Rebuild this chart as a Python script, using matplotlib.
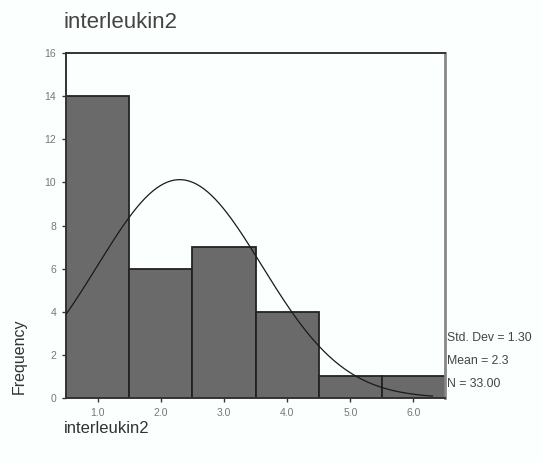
import matplotlib
matplotlib.use('Agg')
import matplotlib.pyplot as plt
import numpy as np

plt.rcParams['font.family'] = ['Liberation Sans', 'DejaVu Sans']

# histogram data
bin_centers = [1.0, 2.0, 3.0, 4.0, 5.0, 6.0]
frequencies = [14, 6, 7, 4, 1, 1]
tick_labels = ['1.0', '2.0', '3.0', '4.0', '5.0', '6.0']
y_ticks = [0, 2, 4, 6, 8, 10, 12, 14, 16]

# summary stats printed at the side
std_dev = 1.30
mean = 2.3
n_total = 33.00

fig = plt.figure(figsize=(5.41, 4.62), dpi=100, facecolor='#fbfffe')
ax = fig.add_axes([0.122, 0.1385, 0.7006, 0.7468])
ax.set_facecolor('#fbfffe')

ax.bar(bin_centers, frequencies, width=1.0, color='#6a6a6a',
       edgecolor='#222222', linewidth=1.3, zorder=2)

# fitted normal curve (from the displayed mean / sd / N, bin width 1)
xs = np.linspace(0.5, 6.3, 200)
curve = n_total / (std_dev * np.sqrt(2 * np.pi)) * np.exp(-0.5 * ((xs - mean) / std_dev) ** 2)
ax.plot(xs, curve, color='#1a1a1a', linewidth=0.9, zorder=3)

ax.set_xlim(0.5, 6.5)
ax.set_ylim(0, 16)
ax.set_xticks(bin_centers)
ax.set_xticklabels(tick_labels)
ax.set_yticks(y_ticks)
ax.tick_params(axis='both', labelsize=7.5, colors='#333333', labelcolor='#777777',
               length=3, width=1, pad=4)

for side in ['left', 'top', 'bottom']:
    ax.spines[side].set_color('#333333')
    ax.spines[side].set_linewidth(1.4)
ax.spines['right'].set_color('#888888')
ax.spines['right'].set_linewidth(2.0)

fig.text(0.118, 0.952, 'interleukin2', fontsize=16, color='#444444',
         ha='left', va='center')
fig.text(0.118, 0.073, 'interleukin2', fontsize=12, color='#333333',
         ha='left', va='center')
fig.text(0.036, 0.228, 'Frequency', fontsize=11.5, color='#333333',
         rotation=90, ha='center', va='center')

fig.text(0.827, 0.268, 'Std. Dev = %.2f' % std_dev, fontsize=8.8, color='#444444',
         ha='left', va='center')
fig.text(0.827, 0.219, 'Mean = %.1f' % mean, fontsize=8.8, color='#444444',
         ha='left', va='center')
fig.text(0.827, 0.169, 'N = %.2f' % n_total, fontsize=8.8, color='#444444',
         ha='left', va='center')

plt.savefig('out.png', dpi=100, facecolor=fig.get_facecolor())
